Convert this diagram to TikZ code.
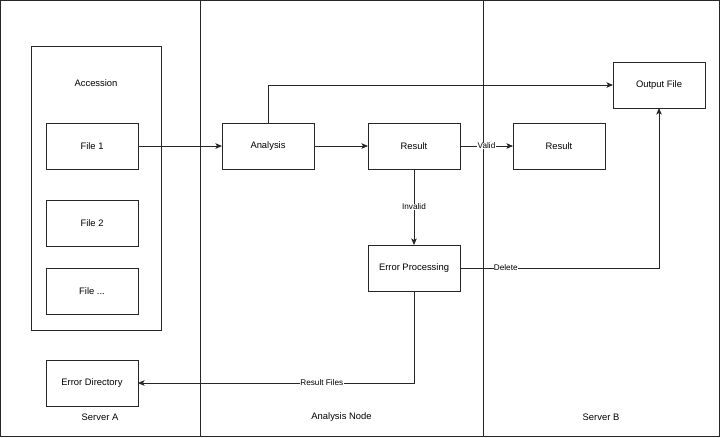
\documentclass[tikz,border=0pt]{standalone}
\usepackage{fontspec}
\setmainfont{Liberation Sans}
\usetikzlibrary{arrows.meta}
\begin{document}
\begin{tikzpicture}[x=1pt,y=-1pt,
  box/.style={draw=black!85, line width=0.8pt, minimum width=92pt, minimum height=46pt, inner sep=0pt, outer sep=0pt, font=\fontsize{9.4}{11}\selectfont},
  txt/.style={inner sep=0pt, font=\fontsize{9.4}{11}\selectfont},
  lbl/.style={fill=white, inner sep=0.4pt, font=\fontsize{8.2}{9}\selectfont},
  conn/.style={draw=black!85, line width=0.8pt, -{Stealth[length=6.5pt,width=5.5pt,inset=1.5pt]}},
  lane/.style={draw=black!85, line width=0.9pt}]
\useasboundingbox (0,0) rectangle (720,437);
% lanes
\draw[lane] (0.6,0.6) rectangle (719.4,436.4);
\coordinate (la1t) at (200,0.6); \coordinate (la1b) at (200,436.4);
\coordinate (la2t) at (483,0.6); \coordinate (la2b) at (483,436.4);
\draw[lane] (la1t) -- (la1b);
\draw[lane] (la2t) -- (la2b);
\node[txt] (srvA) at (100,417) {Server A};
\node[txt] (anode) at (341.5,417) {Analysis Node};
\node[txt] (srvB) at (601,417) {Server B};
% accession container
\node[draw=black!85, line width=0.8pt, minimum width=130pt, minimum height=284pt, inner sep=0pt] (acc) at (96,188) {};
\node[txt] (acclbl) at (96,83) {Accession};
% boxes
\node[box] (f1) at (92,146) {File 1};
\node[box] (f2) at (92,223) {File 2};
\node[box] (f3) at (92,291) {File ...};
\node[box] (errdir) at (92,383) {Error Directory};
\node[box] (ana) at (268,146) {Analysis};
\node[box] (res) at (414,146) {Result};
\node[box] (res2) at (559,146) {Result};
\node[box] (out) at (659,85) {Output File};
\node[box] (errp) at (414,268) {Error Processing};
% connectors
\draw[conn] (f1) -- (ana);
\draw[conn] (ana.north) |- (out.west);
\draw[conn] (ana) -- (res);
\draw[conn] (res) -- node[lbl] {Valid} (res2);
\draw[conn] (res) -- node[lbl] {Invalid} (errp);
\draw[conn] (errp.east) -| node[lbl, pos=0.115] {Delete} (out.south);
\draw[conn] (errp.south) |- node[lbl, pos=0.667] {Result Files} (errdir.east);
\end{tikzpicture}
\end{document}
